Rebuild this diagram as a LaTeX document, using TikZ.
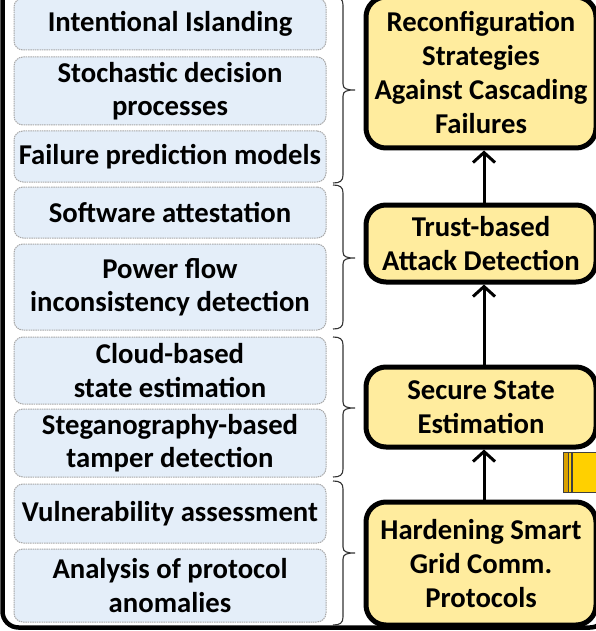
\documentclass[tikz,border=0pt]{standalone}
\usepackage{fontspec}
\setmainfont{Carlito}
\usetikzlibrary{arrows.meta}
\definecolor{lblue}{HTML}{E4EEF9}
\definecolor{lborder}{HTML}{A8A8A8}
\definecolor{yel}{HTML}{FFEC9E}
\definecolor{gold}{HTML}{FFD000}
\definecolor{darkgold}{HTML}{D9A000}
\tikzset{
  lbox/.style={draw=lborder, line width=1pt, dash pattern=on 1.5pt off 0.8pt, fill=lblue,
    rounded corners=9pt, minimum width=312pt, inner sep=0pt, align=center,
    font=\bfseries\fontsize{28.7}{33.5}\selectfont},
  rbox/.style={draw=black, line width=5pt, fill=yel, rounded corners=20pt,
    minimum width=230pt, inner sep=0pt, align=center,
    font=\bfseries\fontsize{28.7}{34}\selectfont},
  flow/.style={line width=3pt, -{Straight Barb[length=10pt,width=22pt,line width=3pt]}},
  bracket/.style={draw=black!80, line width=1.1pt},
  frame/.style={draw=black, line width=4.5pt, rounded corners=16pt},
}
\begin{document}
\begin{tikzpicture}[x=1pt,y=-1pt]
\clip (0,0) rectangle (596,631);
\fill[white] (0,0) rectangle (596,631);
% outer frame
\draw[frame] (2.5,-40) -- (2.5,627.5) -- (606,627.5) -- (606,-40);
% left boxes
\node[lbox, minimum height=52pt] (l1) at (170,24) {Intentional Islanding};
\node[lbox, minimum height=68pt] (l2) at (170,91) {Stochastic decision\\processes};
\node[lbox, minimum height=51pt] (l3) at (170,156.5) {Failure prediction models};
\node[lbox, minimum height=51pt] (l4) at (170,212.5) {Software attestation};
\node[lbox, minimum height=86pt] (l5) at (170,287) {Power flow\\inconsistency detection};
\node[lbox, minimum height=67pt] (l6) at (170,370.5) {Cloud-based\\state estimation};
\node[lbox, minimum height=68pt] (l7) at (170,443) {Steganography-based\\tamper detection};
\node[lbox, minimum height=59pt] (l8) at (170,513.5) {Vulnerability assessment};
\node[lbox, minimum height=73pt] (l9) at (170,585.5) {Analysis of protocol\\anomalies};
% braces
\foreach \ya/\ym/\yb in {-3/90/183, 185/258/329, 337/408/477, 481/553/625}{
  \draw[bracket] (333,\ya) .. controls (340,\ya) and (343,\ya+2) .. (343,\ya+8)
    -- (343,\ym-6) .. controls (343,\ym-1) and (347,\ym) .. (355,\ym)
    .. controls (347,\ym) and (343,\ym+1) .. (343,\ym+6)
    -- (343,\yb-8) .. controls (343,\yb-2) and (340,\yb) .. (333,\yb);
}
% right boxes
\node[rbox, minimum height=151pt] (r1) at (481,72.5) {Reconfiguration\\Strategies\\Against Cascading\\Failures};
\node[rbox, minimum height=77pt] (r2) at (481,243.5) {Trust-based\\Attack Detection};
\node[rbox, minimum height=80pt] (r3) at (481,407) {Secure State\\Estimation};
\node[rbox, minimum height=123pt] (r4) at (481,563.5) {Hardening Smart\\Grid Comm.\\Protocols};
% arrows
\draw[flow] ([xshift=3pt]r4.north) -- ([xshift=3pt]r3.south);
\draw[flow] ([xshift=3pt]r3.north) -- ([xshift=3pt]r2.south);
\draw[flow] ([xshift=3pt]r2.north) -- ([xshift=3pt]r1.south);
% partial gold shape at right
\draw[black!75, fill=darkgold, line width=0.8pt] (563.5,452) rectangle (568.5,492);
\draw[black!75, fill=gold, line width=0.8pt] (568.5,452) rectangle (571,492);
\draw[black!75, fill=gold, line width=0.8pt] (572,452) rectangle (600,492);
\end{tikzpicture}
\end{document}
